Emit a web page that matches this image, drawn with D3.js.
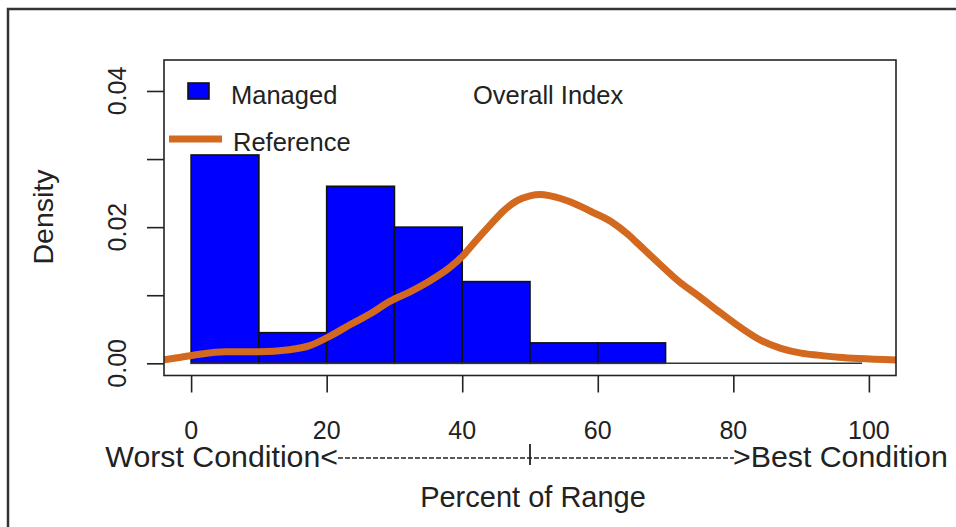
<!DOCTYPE html>
<html>
<head>
<meta charset="utf-8">
<script src="https://cdn.jsdelivr.net/npm/d3@7/dist/d3.min.js"></script>
<style>
  html, body { margin: 0; padding: 0; background: #fff; }
  svg { display: block; font-family: "Liberation Sans", Arial, sans-serif; }
</style>
</head>
<body>
<svg id="chart" width="956" height="527"></svg>
<script>
// ---- data ----
const binStarts = [0, 10, 20, 30, 40, 50, 60];
const binWidth = 10;
const managedDensity = [0.0306, 0.0045, 0.0260, 0.0200, 0.0120, 0.0030, 0.0030];
const refX = [-4, -1.5, 1, 5, 10, 14.5, 17.5, 20.5, 23.5, 26.5, 29.3, 32.3, 35.2, 38.2, 40.2, 42.1, 44.1, 46.1, 48.1, 50, 51.5, 53, 56, 59, 62, 64.5, 66, 69, 72, 75, 78, 81, 84, 87, 90, 92.5, 95.5, 98.5, 104];
const refY = [0.0005, 0.0009, 0.0013, 0.0017, 0.0017, 0.0020, 0.0026, 0.0040, 0.0057, 0.0073, 0.0091, 0.0105, 0.0121, 0.0141, 0.0159, 0.0181, 0.0203, 0.0224, 0.0239, 0.0246, 0.0248, 0.0246, 0.0237, 0.0223, 0.0208, 0.0189, 0.0175, 0.0147, 0.0120, 0.0098, 0.0075, 0.0053, 0.0034, 0.0022, 0.0015, 0.0012, 0.0009, 0.0007, 0.0005];
const xTicks = [0, 20, 40, 60, 80, 100];
const yTicks = [0, 0.01, 0.02, 0.03, 0.04];
const yTickLabels = ["0.00", "", "0.02", "", "0.04"];

const svg = d3.select("#chart");
const L = 164, R = 896, T = 60, B = 375.5;
const x = d3.scaleLinear().domain([-4, 104]).range([L, R]);
const y = d3.scaleLinear().domain([-0.00179, 0.04455]).range([B, T]);
const ink = "#222";

// outer frame
svg.append("rect").attr("x", 8).attr("y", 9).attr("width", 1200).attr("height", 1200)
  .attr("fill", "none").attr("stroke", "#333").attr("stroke-width", 2.5);

svg.append("clipPath").attr("id", "clip").append("rect")
  .attr("x", L).attr("y", T).attr("width", R - L).attr("height", B - T);

const plot = svg.append("g").attr("clip-path", "url(#clip)");

// histogram bars
plot.selectAll("rect.bar").data(binStarts).enter().append("rect")
  .attr("class", "bar")
  .attr("x", d => x(d))
  .attr("width", d => x(d + binWidth) - x(d))
  .attr("y", (d, i) => y(managedDensity[i]))
  .attr("height", (d, i) => y(0) - y(managedDensity[i]))
  .attr("fill", "#0000FF").attr("stroke", "#111").attr("stroke-width", 1.6);

// reference curve
const line = d3.line().x((d, i) => x(refX[i])).y((d, i) => y(refY[i])).curve(d3.curveMonotoneX);
plot.append("path").datum(refX).attr("d", line)
  .attr("fill", "none").attr("stroke", "#D2691E").attr("stroke-width", 7)
  .attr("stroke-linejoin", "round");

// baseline line
plot.append("line").attr("x1", x(0)).attr("x2", x(99)).attr("y1", y(0)).attr("y2", y(0))
  .attr("stroke", "#333").attr("stroke-width", 1.4);

// box
svg.append("rect").attr("x", L).attr("y", T).attr("width", R - L).attr("height", B - T)
  .attr("fill", "none").attr("stroke", ink).attr("stroke-width", 1.6);

// x axis
const xa = svg.append("g").attr("transform", `translate(0,${B})`)
  .call(d3.axisBottom(x).tickValues(xTicks).tickSize(17).tickSizeOuter(0).tickPadding(0).tickFormat(""));
xa.select(".domain").remove();
xa.selectAll(".tick line").attr("stroke", ink).attr("stroke-width", 1.6);
svg.selectAll("text.xl").data(xTicks).enter().append("text").attr("class", "xl")
  .attr("x", d => x(d)).attr("y", 439).attr("text-anchor", "middle")
  .attr("font-size", 25).attr("fill", ink).text(d => d);

// y axis
const ya = svg.append("g").attr("transform", `translate(${L},0)`)
  .call(d3.axisLeft(y).tickValues(yTicks).tickSize(17).tickSizeOuter(0).tickFormat(""));
ya.select(".domain").remove();
ya.selectAll(".tick line").attr("stroke", ink).attr("stroke-width", 1.6);
svg.selectAll("text.yl").data(yTicks).enter().append("text").attr("class", "yl")
  .attr("transform", d => `translate(126,${y(d)}) rotate(-90)`)
  .attr("text-anchor", "middle").attr("font-size", 25).attr("fill", ink)
  .text((d, i) => yTickLabels[i]);

// axis titles
svg.append("text").attr("transform", "translate(53,217) rotate(-90)")
  .attr("text-anchor", "middle").attr("font-size", 28.5).attr("fill", ink).text("Density");
svg.append("text").attr("x", 533).attr("y", 507).attr("text-anchor", "middle")
  .attr("font-size", 29).attr("fill", ink).text("Percent of Range");

// condition line
svg.append("text").attr("x", 338).attr("y", 467).attr("text-anchor", "end")
  .attr("font-size", 30.3).attr("fill", ink).text("Worst Condition<");
svg.append("text").attr("x", 733).attr("y", 467).attr("text-anchor", "start")
  .attr("font-size", 30.3).attr("fill", ink).text(">Best Condition");
svg.append("line").attr("x1", 338).attr("x2", 734).attr("y1", 458).attr("y2", 458)
  .attr("stroke", ink).attr("stroke-width", 1.6).attr("stroke-dasharray", "5,2");
svg.append("line").attr("x1", x(50)).attr("x2", x(50)).attr("y1", 444).attr("y2", 465)
  .attr("stroke", ink).attr("stroke-width", 1.8);

// legend
svg.append("rect").attr("x", 188).attr("y", 83).attr("width", 21).attr("height", 16)
  .attr("fill", "#0000FF").attr("stroke", "#111").attr("stroke-width", 1.6);
svg.append("text").attr("x", 231).attr("y", 104).attr("font-size", 25.5).attr("fill", ink).text("Managed");
svg.append("line").attr("x1", 169).attr("x2", 222).attr("y1", 139).attr("y2", 139)
  .attr("stroke", "#D2691E").attr("stroke-width", 7);
svg.append("text").attr("x", 233).attr("y", 151).attr("font-size", 25.5).attr("fill", ink).text("Reference");
svg.append("text").attr("x", 473).attr("y", 104).attr("font-size", 25.5).attr("fill", ink).text("Overall Index");
</script>
</body>
</html>
